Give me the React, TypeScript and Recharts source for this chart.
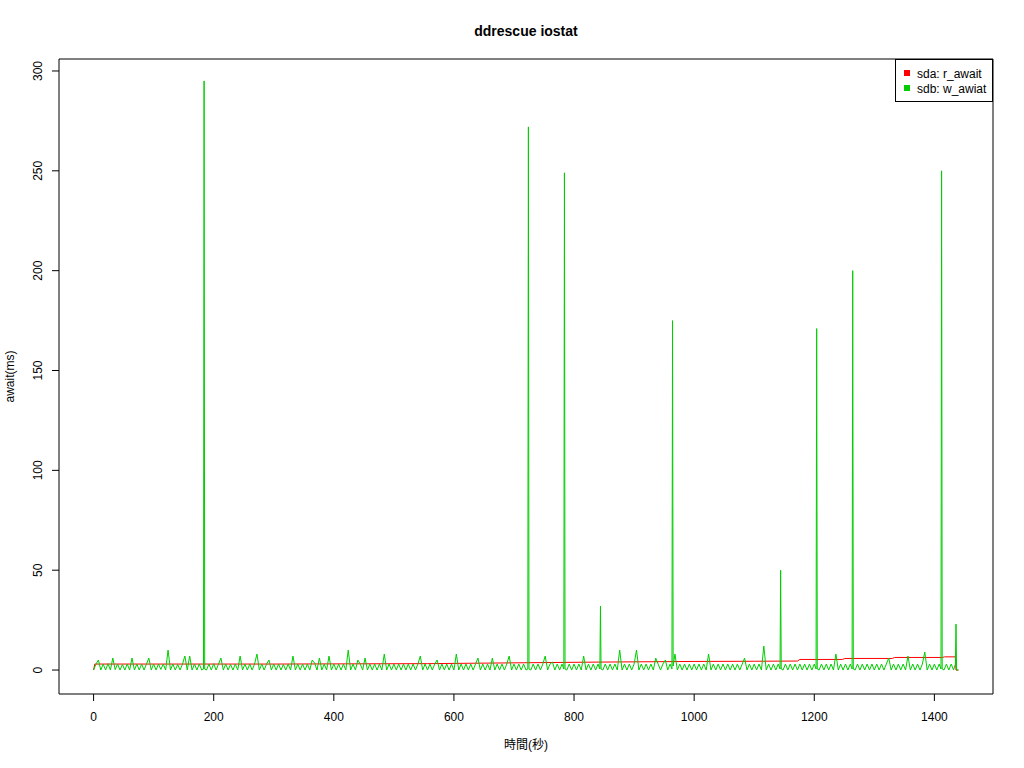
import React from 'react';
import { LineChart, Line, XAxis, YAxis, ReferenceArea } from 'recharts';

// ---- data ----
const TITLE = 'ddrescue iostat';
const X_LABEL = '時間(秒)';
const Y_LABEL = 'await(ms)';
const SERIES_NAMES = ['sda: r_await', 'sdb: w_awiat'];
const SERIES_COLORS = ['#FF0000', '#00CD00'];

const X_TICKS = [0, 200, 400, 600, 800, 1000, 1200, 1400];
const Y_TICKS = [0, 50, 100, 150, 200, 250, 300];

// sdb w_await, one sample every 4 seconds (t = 0 .. 1440)
const SAMPLE_INTERVAL_S = 4;
const sdbWAwait = [
  0, 3, 5, 0, 3, 0, 3.2, 0, 6, 0.2, 3, 0, 2.8, 0, 3, 0, 6, 0, 3, 0,
  3, 0, 3, 6, 0, 3, 0, 3, 0.3, 3, 0, 10, 0, 3, 0, 2.8, 0, 3, 7, 0,
  7, 0, 3, 0, 3, 0, 295, 0, 3, 0, 3.2, 0, 3, 6, 0, 3, 0, 2.8, 0, 3,
  0, 7, 0, 3, 0, 3, 0, 3, 8, 0, 3, 0, 3, 5, 0, 3, 0, 3, 0, 2.8,
  0, 3, 0, 7, 0, 3, 0, 3, 0, 3, 0, 5, 3.5, 0, 6, 0, 3, 0, 7, 0,
  3, 0, 3, 0, 3, 0, 10, 0, 3, 0, 5, 3, 0, 6, 0, 3, 0, 3, 0, 3,
  0, 8, 0, 3, 0, 3, 0, 3, 0, 3, 0, 3, 0, 3, 0, 3, 7, 0, 3, 0,
  3, 0, 3, 5, 0, 3, 0, 3, 0, 3, 0, 8, 0, 3, 0, 3, 0, 3, 0, 3,
  6, 0, 3, 0, 3, 0, 6, 0, 3, 0, 3, 0, 3, 7, 0, 3, 0, 3, 0, 3,
  0, 272, 0, 3, 0, 3, 0, 3, 7, 0, 3, 4, 0, 3, 0, 3, 249, 0, 3, 0,
  3, 0, 3, 0, 7, 0, 3, 0, 3, 0, 3, 32, 0, 3, 0, 3, 0, 3, 0, 10,
  0, 3, 0, 3, 0, 3, 10, 0, 3, 0, 3, 0, 3, 0, 6, 3, 0, 3, 5, 0,
  3, 175, 8, 0, 3, 0, 3, 0, 3, 0, 3, 0, 3, 0, 3, 0, 8, 0, 3, 0,
  3, 0, 3, 0, 3, 0, 3, 0, 3, 0, 3, 6, 0, 3, 0, 3, 0, 3, 0, 12,
  0, 3, 0, 3, 0, 3, 50, 0, 3, 0, 3, 0, 3, 0, 3, 0, 3, 0, 3, 0,
  3, 171, 0, 3, 0, 3, 0, 3, 0, 8, 0, 3, 0, 3, 0, 3, 200, 0, 3, 0,
  3, 0, 3, 0, 3, 0, 3, 0, 3, 0, 3, 6, 0, 3, 0, 3, 0, 3, 0, 7,
  0, 3, 0, 3, 0, 3, 9, 0, 3, 0, 3, 0, 3, 250, 0, 3, 0, 3, 0, 23,
  0,
];

// extra 1-second samples either side of the large write-latency spikes
const sdbExtraTimes = [
  183, 185, 723, 725, 783, 785, 843, 845, 963, 965,
  1143, 1145, 1203, 1205, 1263, 1265, 1411, 1413, 1435, 1437,
];
const sdbExtraValues = [
  0.5, 0.5, 0.5, 0.5, 0.5, 0.5, 0.5, 0.5, 0.5, 2,
  0.5, 0.5, 0.5, 0.5, 0.5, 0.5, 0.5, 0.5, 3, 0,
];

// sda r_await (slowly rising, step-like)
const sdaTimes = [0, 2, 300, 556, 700, 850, 1000, 1100, 1172, 1176, 1247, 1251, 1330, 1334, 1413, 1417, 1435, 1436, 1440];
const sdaRAwait = [0, 3.0, 3.0, 3.2, 3.6, 4.0, 4.3, 4.4, 4.5, 5.3, 5.3, 5.8, 5.8, 6.3, 6.3, 6.6, 6.6, 0, 0];

const sdbData = sdbWAwait
  .map((v, i) => ({ t: i * SAMPLE_INTERVAL_S, v }))
  .concat(sdbExtraTimes.map((t, i) => ({ t, v: sdbExtraValues[i] })))
  .sort((a, b) => a.t - b.t);
const sdaData = sdaTimes.map((t, i) => ({ t, v: sdaRAwait[i] }));

const FONT = '"Liberation Sans", Arial, Helvetica, sans-serif';
const X_DOMAIN: [number, number] = [-57.6, 1497.6];
const Y_DOMAIN: [number, number] = [-12, 306];

const XTick = (props: any) => {
  const { x, payload } = props;
  return (
    <text x={x} y={720.5} textAnchor="middle" fontSize={12} fontFamily={FONT} fill="#000">
      {payload.value}
    </text>
  );
};

const YTick = (props: any) => {
  const { y, payload } = props;
  const bx = 42.3;
  return (
    <text
      x={bx}
      y={y}
      textAnchor="middle"
      fontSize={12}
      fontFamily={FONT}
      fill="#000"
      transform={`rotate(-90, ${bx}, ${y})`}
    >
      {payload.value}
    </text>
  );
};

export default function App() {
  return (
    <div style={{ position: 'absolute', left: 0, top: 0, width: 1024, height: 768, background: '#fff' }}>
      <LineChart
        width={1024}
        height={768}
        margin={{ top: 59, right: 31, bottom: 44, left: 0 }}
      >
        <XAxis
          type="number"
          dataKey="t"
          domain={X_DOMAIN}
          ticks={X_TICKS}
          allowDataOverflow
          height={30}
          axisLine={false}
          tickLine={{ stroke: '#000' }}
          tickSize={7}
          tick={<XTick />}
          interval={0}
        />
        <YAxis
          type="number"
          dataKey="v"
          domain={Y_DOMAIN}
          ticks={Y_TICKS}
          allowDataOverflow
          width={59}
          axisLine={false}
          tickLine={{ stroke: '#000' }}
          tickSize={7}
          tick={<YTick />}
          interval={0}
        />
        <Line
          data={sdaData}
          dataKey="v"
          name={SERIES_NAMES[0]}
          type="linear"
          stroke={SERIES_COLORS[0]}
          strokeWidth={1}
          dot={false}
          activeDot={false}
          isAnimationActive={false}
        />
        <Line
          data={sdbData}
          dataKey="v"
          name={SERIES_NAMES[1]}
          type="linear"
          stroke={SERIES_COLORS[1]}
          strokeWidth={1}
          dot={false}
          activeDot={false}
          isAnimationActive={false}
        />
        <ReferenceArea
          x1={X_DOMAIN[0]}
          x2={X_DOMAIN[1]}
          y1={Y_DOMAIN[0]}
          y2={Y_DOMAIN[1]}
          fill="none"
          fillOpacity={0}
          stroke="#000"
          strokeWidth={1}
          ifOverflow="visible"
        />
      </LineChart>
      <svg
        width={1024}
        height={768}
        style={{ position: 'absolute', left: 0, top: 0, pointerEvents: 'none' }}
      >
        <text x={526} y={36} textAnchor="middle" fontSize={14} fontWeight="bold" fontFamily={FONT} fill="#000">
          {TITLE}
        </text>
        <text x={526} y={749} textAnchor="middle" fontSize={12} fontFamily={`${FONT}, "Noto Sans CJK JP"`} fill="#000">
          {X_LABEL}
        </text>
        <text
          x={13.5}
          y={376.5}
          textAnchor="middle"
          fontSize={12}
          fontFamily={FONT}
          fill="#000"
          transform="rotate(-90, 13.5, 376.5)"
        >
          {Y_LABEL}
        </text>
        <rect x={895.5} y={59.5} width={97} height={42} fill="#fff" stroke="#000" strokeWidth={1} />
        {SERIES_NAMES.map((name, i) => (
          <g key={name}>
            <rect x={904} y={70 + i * 15} width={6} height={6} fill={SERIES_COLORS[i]} />
            <text x={917} y={77.5 + i * 15} fontSize={12} fontFamily={FONT} fill="#000">
              {name}
            </text>
          </g>
        ))}
      </svg>
    </div>
  );
}
